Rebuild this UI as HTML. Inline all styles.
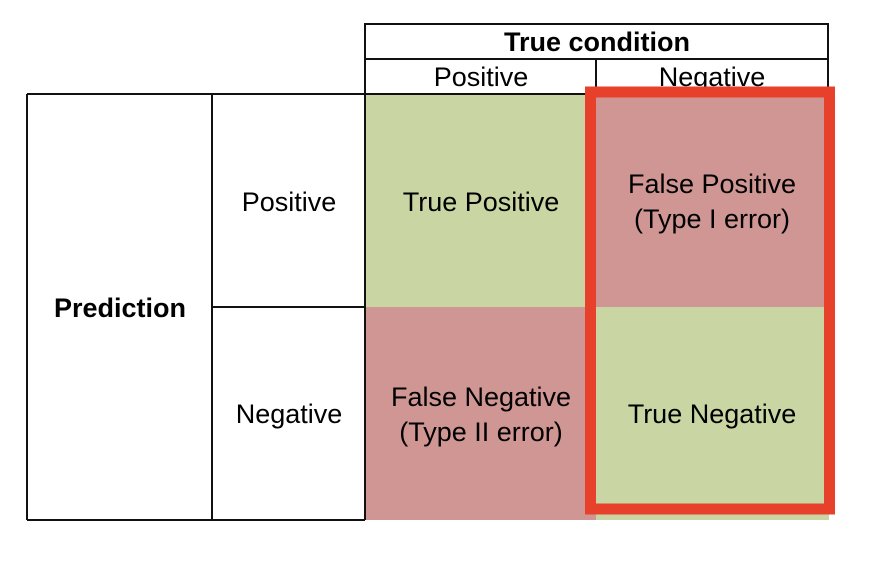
<!DOCTYPE html>
<html><head><meta charset="utf-8"><style>
body{margin:0;background:#fff;}
svg text{font-family:"Liberation Sans",Arial,sans-serif;font-size:27px;fill:#000;text-anchor:middle;}
</style></head><body>
<svg width="886" height="556">
<g>
<rect x="365" y="94" width="231" height="213" fill="#c9d6a3"/>
<rect x="596" y="94" width="233" height="213" fill="#d09694"/>
<rect x="365" y="307" width="231" height="213" fill="#d09694"/>
<rect x="596" y="307" width="233" height="213" fill="#c9d6a3"/>
</g>
<g stroke="#111" stroke-width="2" fill="none">
<rect x="365" y="24" width="463" height="70"/>
<line x1="365" y1="59" x2="828" y2="59"/>
<line x1="596" y1="59" x2="596" y2="94"/>
<line x1="27" y1="94" x2="365" y2="94"/>
<line x1="27" y1="94" x2="27" y2="520"/>
<line x1="212" y1="94" x2="212" y2="520"/>
<line x1="365" y1="94" x2="365" y2="520"/>
<line x1="27" y1="520" x2="365" y2="520"/>
<line x1="212" y1="307" x2="365" y2="307"/>
</g>
<text x="597" y="51" font-weight="bold">True condition</text>
<text x="481" y="86">Positive</text>
<text x="712" y="86">Negative</text>
<text x="120" y="317" font-weight="bold">Prediction</text>
<text x="289" y="211">Positive</text>
<text x="289" y="423">Negative</text>
<text x="481" y="211">True Positive</text>
<text x="712" y="193">False Positive</text>
<text x="712" y="228">(Type I error)</text>
<text x="481" y="406">False Negative</text>
<text x="481" y="441">(Type II error)</text>
<text x="712" y="423">True Negative</text>
<rect x="590.5" y="92" width="239" height="417" fill="none" stroke="#e8412b" stroke-width="11"/>
</svg>
</body></html>
